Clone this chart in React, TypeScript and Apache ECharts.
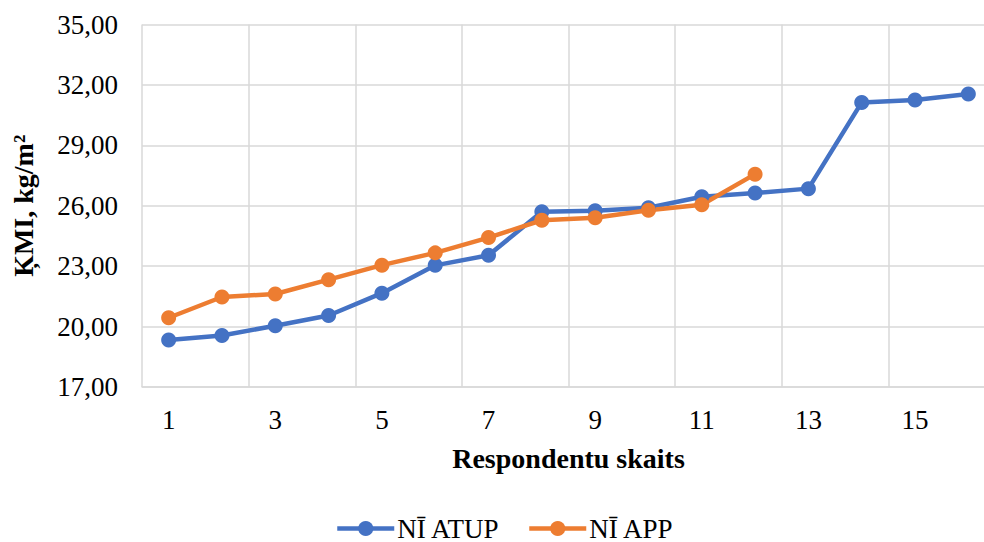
import React, { useEffect, useRef } from "react";
import * as echarts from "echarts";

const categories = ["1","2","3","4","5","6","7","8","9","10","11","12","13","14","15","16"];
const seriesNames = ["NĪ ATUP", "NĪ APP"];
const atupValues = [19.33, 19.56, 20.04, 20.55, 21.66, 23.04, 23.54, 25.70, 25.75, 25.90, 26.45, 26.63, 26.85, 31.13, 31.25, 31.55];
const appValues: (number | null)[] = [20.44, 21.47, 21.62, 22.33, 23.05, 23.66, 24.42, 25.28, 25.40, 25.78, 26.05, 27.57, null, null, null, null];
const yMin = 17;
const yMax = 35;
const yStep = 3;
const xTitle = "Respondentu skaits";
const yTitle = "ĶMI, kg/m²";

const FONT = "'Liberation Serif', 'Times New Roman', serif";
const BLUE = "#4472C4";
const ORANGE = "#ED7D31";
const GRID = "#D9D9D9";

export default function App() {
  const ref = useRef<HTMLDivElement>(null);
  useEffect(() => {
    if (!ref.current) return;
    const chart = echarts.init(ref.current, null, { renderer: "svg" });
    chart.setOption({
      animation: false,
      textStyle: { fontFamily: FONT, color: "#000" },
      grid: { left: 142, right: -11, top: 24.5, bottom: 155, containLabel: false, outerBoundsMode: "none" },
      legend: {
        left: 335,
        top: 515,
        padding: 0,
        itemWidth: 57,
        itemHeight: 19,
        itemGap: 27,
        lineStyle: { width: 4.5 },
        textStyle: { fontFamily: FONT, fontSize: 27, color: "#000", padding: [0, 0, 0, -2] },
        data: seriesNames,
      },
      xAxis: {
        type: "category",
        data: categories,
        boundaryGap: true,
        name: xTitle,
        nameLocation: "middle",
        nameGap: 57,
        nameTextStyle: { fontFamily: FONT, fontSize: 28, fontWeight: "bold", color: "#000" },
        axisLine: { show: true, lineStyle: { color: GRID, width: 1.5 } },
        axisTick: { show: false },
        axisLabel: { interval: 1, margin: 19, fontFamily: FONT, fontSize: 27, color: "#000" },
        splitLine: { show: true, interval: 1, lineStyle: { color: GRID, width: 1.5 } },
      },
      yAxis: {
        type: "value",
        min: yMin,
        max: yMax,
        interval: yStep,
        name: yTitle,
        nameLocation: "middle",
        nameGap: 105,
        nameRotate: 90,
        nameTextStyle: { fontFamily: FONT, fontSize: 28, fontWeight: "bold", color: "#000" },
        axisLine: { show: false },
        axisTick: { show: false },
        axisLabel: {
          margin: 24,
          fontFamily: FONT,
          fontSize: 27,
          color: "#000",
          formatter: (v: number) => v.toFixed(2).replace(".", ","),
        },
        splitLine: { show: true, lineStyle: { color: GRID, width: 1.5 } },
      },
      series: [
        {
          name: seriesNames[0],
          type: "line",
          data: atupValues,
          symbol: "circle",
          symbolSize: 15,
          lineStyle: { color: BLUE, width: 4.5 },
          itemStyle: { color: BLUE },
        },
        {
          name: seriesNames[1],
          type: "line",
          data: appValues,
          symbol: "circle",
          symbolSize: 15,
          lineStyle: { color: ORANGE, width: 4.5 },
          itemStyle: { color: ORANGE },
        },
      ],
    });
    return () => chart.dispose();
  }, []);
  return (
    <div
      ref={ref}
      style={{ position: "fixed", left: 0, top: 0, width: 984, height: 542, background: "#fff" }}
    />
  );
}
